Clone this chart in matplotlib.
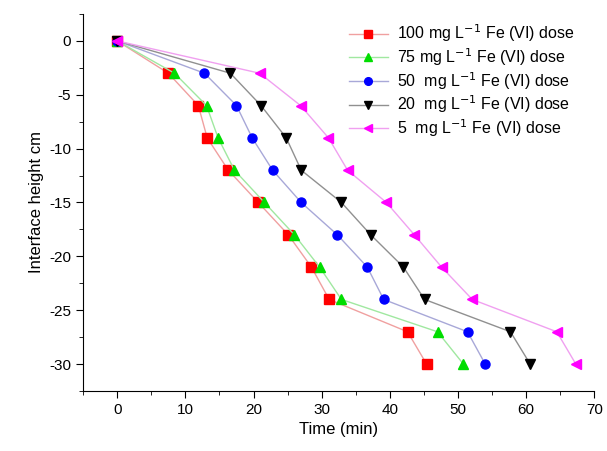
import matplotlib
matplotlib.use("Agg")
import matplotlib.pyplot as plt
from matplotlib.ticker import MultipleLocator

plt.rcParams["font.family"] = ["Liberation Sans", "DejaVu Sans"]
plt.rcParams["axes.unicode_minus"] = False

# data
height = [0, -3, -6, -9, -12, -15, -18, -21, -24, -27, -30]
t_100 = [0, 7.5, 11.9, 13.2, 16.3, 20.7, 25.1, 28.5, 31.1, 42.6, 45.4]
t_75 = [0, 8.4, 13.1, 14.8, 17.2, 21.6, 26.0, 29.7, 32.9, 47.0, 50.8]
t_50 = [0, 12.8, 17.5, 19.8, 22.8, 27.0, 32.3, 36.7, 39.1, 51.4, 54.0]
t_20 = [0, 16.6, 21.1, 24.8, 27.0, 32.9, 37.2, 42.0, 45.1, 57.7, 60.6]
t_5 = [0, 20.9, 26.9, 31.0, 33.8, 39.5, 43.6, 47.6, 52.1, 64.5, 67.3]

labels = [
    "100 mg L$^{-1}$ Fe (VI) dose",
    "75 mg L$^{-1}$ Fe (VI) dose",
    "50  mg L$^{-1}$ Fe (VI) dose",
    "20  mg L$^{-1}$ Fe (VI) dose",
    "5  mg L$^{-1}$ Fe (VI) dose",
]
series = [t_100, t_75, t_50, t_20, t_5]
markers = ["s", "^", "o", "v", "<"]
mcolors = ["#ff0000", "#00dd00", "#0000ff", "#000000", "#ff00ff"]
lcolors = ["#f0a0a0", "#a0e8a0", "#a8a8d8", "#909090", "#f0a0f0"]

fig = plt.figure(figsize=(6.07, 4.51), dpi=100)
ax = fig.add_axes([0.137, 0.133, 0.842, 0.836])

for t, lab, m, mc, lc in zip(series, labels, markers, mcolors, lcolors):
    ax.plot(t, height, color=lc, lw=1.0, marker=m, markersize=6.5,
            markerfacecolor=mc, markeredgecolor=mc, label=lab)

ax.set_xlim(-5, 70)
ax.set_ylim(-32.5, 2.5)
ax.xaxis.set_major_locator(MultipleLocator(10))
ax.xaxis.set_minor_locator(MultipleLocator(5))
ax.yaxis.set_major_locator(MultipleLocator(5))
ax.yaxis.set_minor_locator(MultipleLocator(2.5))
ax.spines["top"].set_visible(False)
ax.spines["right"].set_visible(False)
ax.tick_params(which="both", direction="out", labelsize=11)
ax.tick_params(which="major", length=5)
ax.tick_params(which="minor", length=3)

ax.set_xlabel("Time (min)", fontsize=12)
ax.set_ylabel("Interface height cm", fontsize=12)

ax.legend(loc="upper right", bbox_to_anchor=(0.99, 1.015), frameon=False,
          fontsize=11.5, handlelength=2.4, handletextpad=0.6,
          labelspacing=0.12, markerscale=0.85)

fig.savefig("out.png", dpi=100)
